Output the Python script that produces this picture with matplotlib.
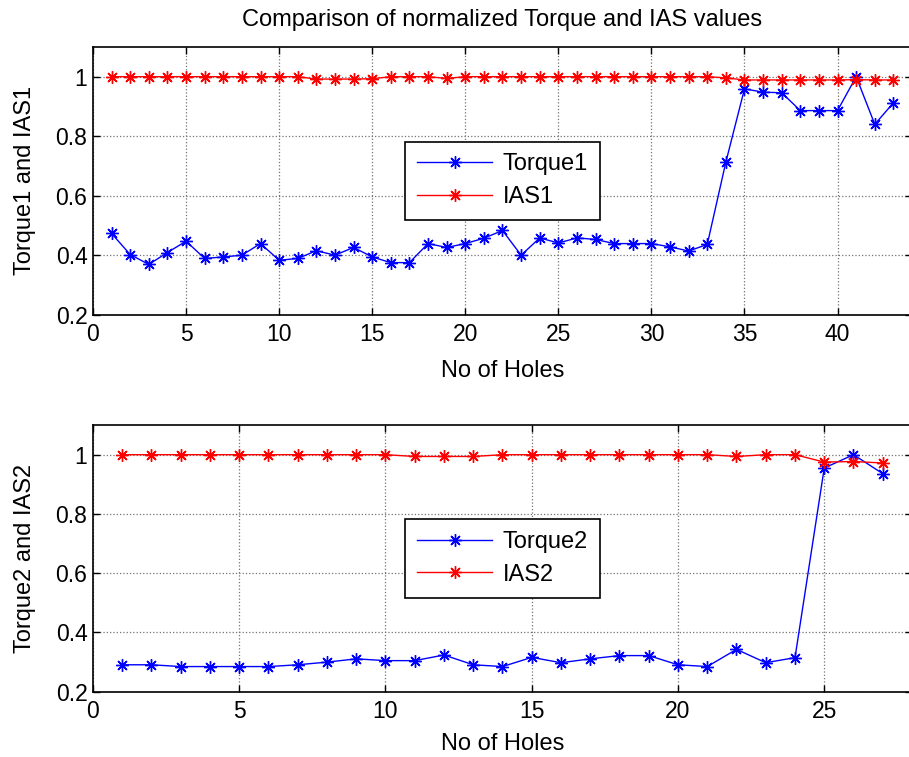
import numpy as np
import matplotlib
matplotlib.use('Agg')
import matplotlib.pyplot as plt

plt.rcParams['font.family'] = ['Liberation Sans', 'DejaVu Sans']

# ── normalized measurements, hole by hole ──────
torque1 = [0.473, 0.402, 0.369, 0.409, 0.447, 0.389, 0.394, 0.400, 0.439, 0.383,
           0.389, 0.415, 0.400, 0.426, 0.394, 0.375, 0.375, 0.439, 0.426, 0.439,
           0.457, 0.483, 0.400, 0.458, 0.441, 0.458, 0.453, 0.439, 0.439, 0.439,
           0.428, 0.414, 0.436, 0.713, 0.959, 0.948, 0.946, 0.886, 0.886, 0.886,
           1.000, 0.840, 0.912]
ias1 = [1.000, 1.000, 1.000, 1.000, 1.000, 1.000, 1.000, 1.000, 1.000, 1.000,
        1.000, 0.992, 0.992, 0.992, 0.993, 1.000, 1.000, 1.000, 0.994, 1.000,
        1.000, 1.000, 1.000, 1.000, 1.000, 1.000, 1.000, 1.000, 1.000, 1.000,
        1.000, 1.000, 1.000, 0.996, 0.989, 0.989, 0.989, 0.989, 0.989, 0.989,
        0.990, 0.989, 0.989]
torque2 = [0.291, 0.291, 0.285, 0.285, 0.285, 0.285, 0.291, 0.300, 0.311, 0.305,
           0.305, 0.324, 0.291, 0.285, 0.316, 0.298, 0.311, 0.322, 0.322, 0.291,
           0.285, 0.343, 0.298, 0.315, 0.955, 1.000, 0.936]
ias2 = [1.000, 1.000, 1.000, 1.000, 1.000, 1.000, 1.000, 1.000, 1.000, 1.000,
        0.994, 0.994, 0.994, 1.000, 1.000, 1.000, 1.000, 1.000, 1.000, 1.000,
        1.000, 0.994, 1.000, 1.000, 0.975, 0.977, 0.972]

holes1 = np.arange(1, len(torque1) + 1)
holes2 = np.arange(1, len(torque2) + 1)

y_ticks = [0.2, 0.4, 0.6, 0.8, 1.0]
y_ticklabels = ['0.2', '0.4', '0.6', '0.8', '1']

ASTERISK = (8, 2, 0)


def style_axes(ax, xmax, xticks):
    ax.set_xlim(0, xmax)
    ax.set_ylim(0.2, 1.1)
    ax.set_xticks(xticks)
    ax.set_yticks(y_ticks)
    ax.set_yticklabels(y_ticklabels)
    ax.tick_params(direction='in', top=True, right=True, length=5,
                   width=1.0, labelsize=16.5)
    ax.tick_params(axis='x', pad=6)
    ax.tick_params(axis='y', pad=4)
    ax.grid(True, linestyle=':', color='0.45', linewidth=0.9)
    for spine in ax.spines.values():
        spine.set_linewidth(1.2)


def draw_pair(ax, x, torque, ias, torque_name, ias_name):
    ax.plot(x, torque, color='#0000ff', lw=1.0, marker=ASTERISK,
            markersize=9, markeredgewidth=1.0, label=torque_name)
    ax.plot(x, ias, color='#ff0000', lw=1.0, marker=ASTERISK,
            markersize=9, markeredgewidth=1.0, label=ias_name)
    leg = ax.legend(loc='center', bbox_to_anchor=(0.5, 0.5), fontsize=17,
                    fancybox=False, framealpha=1.0, edgecolor='black',
                    handlelength=3.2, handletextpad=0.45, borderpad=0.5,
                    borderaxespad=0.0, labelspacing=0.45)
    leg.get_frame().set_linewidth(1.2)


fig = plt.figure(figsize=(9.09, 7.57), dpi=100)
ax1 = fig.add_axes([0.1023, 0.5843, 0.901, 0.3537])
ax2 = fig.add_axes([0.1023, 0.0862, 0.901, 0.3523])

draw_pair(ax1, holes1, torque1, ias1, 'Torque1', 'IAS1')
style_axes(ax1, 44, np.arange(0, 45, 5))
ax1.set_xlabel('No of Holes', fontsize=17, labelpad=10)
ax1.set_ylabel('Torque1 and IAS1', fontsize=17, labelpad=14)
ax1.set_title('Comparison of normalized Torque and IAS values',
              fontsize=17, pad=15)

draw_pair(ax2, holes2, torque2, ias2, 'Torque2', 'IAS2')
style_axes(ax2, 28, np.arange(0, 30, 5))
ax2.set_xlabel('No of Holes', fontsize=17, labelpad=7)
ax2.set_ylabel('Torque2 and IAS2', fontsize=17, labelpad=14)

fig.savefig('out.png', dpi=100, facecolor='white')
